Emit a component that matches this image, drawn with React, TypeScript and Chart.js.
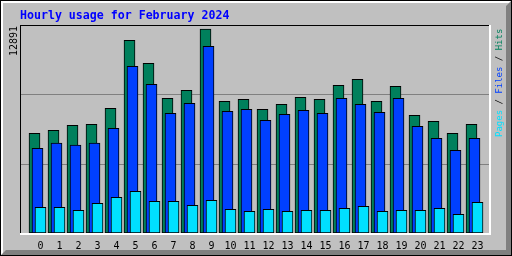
import React, { useEffect, useRef } from "react";
import { Chart, registerables } from "chart.js";

Chart.register(...registerables);

const TITLE = "Hourly usage for February 2024";
const MAX_LABEL = "12891";
const HOURS = [0, 1, 2, 3, 4, 5, 6, 7, 8, 9, 10, 11, 12, 13, 14, 15, 16, 17, 18, 19, 20, 21, 22, 23];
const HITS = [6300, 6490, 6806, 6869, 7880, 12177, 10723, 8512, 9017, 12891, 8322, 8449, 7817, 8133, 8575, 8449, 9333, 9712, 8322, 9270, 7437, 7058, 6300, 6869];
const FILES = [5352, 5687, 5561, 5687, 6616, 10534, 9396, 7564, 8196, 11798, 7690, 7817, 7122, 7501, 7753, 7564, 8512, 8133, 7627, 8512, 6742, 5984, 5226, 5984];
const PAGES = [1624, 1624, 1434, 1877, 2256, 2635, 2003, 2003, 1750, 2066, 1498, 1371, 1498, 1371, 1434, 1434, 1561, 1687, 1371, 1434, 1434, 1561, 1182, 1940];

const C_HITS = "#00805C";
const C_FILES = "#0040FF";
const C_PAGES = "#00E0FF";
const BG = "#C0C0C0";

// layout constants (pixels)
const W = 512;
const H = 256;
const P_LEFT = 21;
const P_RIGHT = 489;
const P_TOP = 26;
const P_BOTTOM = 233;
const STEP = 19; // px per hour group
const OFFSET = 3; // px between overlapping bars
const FIRST_CENTER = 34.5;

const X_MIN = -(FIRST_CENTER - P_LEFT) / STEP;
const X_MAX = X_MIN + (P_RIGHT - P_LEFT) / STEP;
const Y_MAX = (HITS[9] * (P_BOTTOM - P_TOP)) / (P_BOTTOM - 29);

const framePlugin = {
  id: "frame",
  beforeDraw(chart: any) {
    const ctx = chart.ctx;
    ctx.save();
    ctx.fillStyle = BG;
    ctx.fillRect(0, 0, W, H);
    // outer black
    ctx.fillStyle = "#000000";
    ctx.fillRect(0, 0, W, 1);
    ctx.fillRect(0, 0, 1, H);
    ctx.fillRect(W - 1, 0, 1, H);
    ctx.fillRect(0, H - 1, W, 1);
    // white highlight
    ctx.fillStyle = "#FFFFFF";
    ctx.fillRect(1, 1, W - 2, 2);
    ctx.fillRect(1, 1, 2, H - 2);
    // gray shadow
    ctx.fillStyle = "#808080";
    ctx.beginPath();
    ctx.moveTo(W - 1, 1);
    ctx.lineTo(W - 1, H - 1);
    ctx.lineTo(1, H - 1);
    ctx.lineTo(6, H - 6);
    ctx.lineTo(W - 6, H - 6);
    ctx.lineTo(W - 6, 6);
    ctx.closePath();
    ctx.fill();
    ctx.restore();
  },
  beforeDatasetsDraw(chart: any) {
    const ctx = chart.ctx;
    const a = chart.chartArea;
    ctx.save();
    ctx.fillStyle = "#000000";
    ctx.fillRect(a.left - 1, a.top - 1, a.right - a.left + 1, 1);
    ctx.fillRect(a.left - 1, a.top - 1, 1, a.bottom - a.top + 1);
    ctx.fillStyle = "#FFFFFF";
    ctx.fillRect(a.left - 1, a.bottom, a.right - a.left + 3, 2);
    ctx.fillRect(a.right, a.top - 1, 2, a.bottom - a.top + 3);
    ctx.restore();
  },
  afterDraw(chart: any) {
    const ctx = chart.ctx;
    ctx.save();
    ctx.font = "bold 11.6px 'DejaVu Sans Mono'";
    ctx.fillStyle = "#0000FF";
    ctx.textBaseline = "alphabetic";
    ctx.textAlign = "left";
    ctx.fillText(TITLE, 20, 19);
    // right label
    ctx.translate(500, 137);
    ctx.rotate(-Math.PI / 2);
    ctx.font = "9px 'DejaVu Sans Mono'";
    ctx.textBaseline = "middle";
    const parts: [string, string][] = [
      ["Pages", C_PAGES],
      [" / ", "#000000"],
      ["Files", C_FILES],
      [" / ", "#000000"],
      ["Hits", C_HITS],
    ];
    let x = 0;
    for (const [t, c] of parts) {
      ctx.fillStyle = c;
      ctx.fillText(t, x, 0);
      x += ctx.measureText(t).width;
    }
    ctx.restore();
  },
};

export default function App() {
  const ref = useRef<HTMLCanvasElement | null>(null);
  useEffect(() => {
    if (!ref.current) return;
    const mk = (vals: number[], shift: number) =>
      vals.map((v, i) => ({ x: HOURS[i] + shift / STEP, y: v }));
    const common = {
      borderColor: "#000000",
      borderWidth: 1,
      borderSkipped: false,
      barThickness: 11,
      grouped: false,
    };
    const chart = new Chart(ref.current, {
      type: "bar",
      data: {
        datasets: [
          { label: "Hits", data: mk(HITS, 0), backgroundColor: C_HITS, order: 3, ...common },
          { label: "Files", data: mk(FILES, OFFSET), backgroundColor: C_FILES, order: 2, ...common },
          { label: "Pages", data: mk(PAGES, OFFSET * 2), backgroundColor: C_PAGES, order: 1, ...common },
        ] as any,
      },
      options: {
        animation: false,
        responsive: false,
        devicePixelRatio: 1,
        layout: { padding: { top: P_TOP, right: W - P_RIGHT, bottom: 0, left: 0 } },
        plugins: { legend: { display: false }, tooltip: { enabled: false }, title: { display: false } },
        scales: {
          x: {
            type: "linear",
            offset: false,
            min: X_MIN,
            max: X_MAX,
            grid: { display: false, drawTicks: false, offset: false },
            border: { display: false },
            afterBuildTicks: (scale: any) => {
              scale.ticks = HOURS.map((h) => ({ value: h + (2 * OFFSET) / STEP }));
            },
            afterFit: (scale: any) => {
              scale.height = H - P_BOTTOM;
            },
            ticks: {
              autoSkip: false,
              maxRotation: 0,
              minRotation: 0,
              padding: 7,
              color: "#000000",
              font: { family: "'DejaVu Sans Mono'", size: 10 },
              callback: (_v: any, i: number) => String(HOURS[i]),
            },
          },
          y: {
            type: "linear",
            min: 0,
            max: Y_MAX,
            afterBuildTicks: (scale: any) => {
              scale.ticks = [{ value: Y_MAX / 3 }, { value: (2 * Y_MAX) / 3 }];
            },
            afterFit: (scale: any) => {
              scale.width = P_LEFT;
            },
            grid: { color: "#808080", lineWidth: 1, drawTicks: false },
            border: { display: false },
            ticks: { display: false },
            title: {
              display: true,
              text: MAX_LABEL,
              align: "end",
              color: "#000000",
              font: { family: "'DejaVu Sans Mono'", size: 10 },
              padding: { top: 8, bottom: 0 },
            },
          },
        },
      } as any,
      plugins: [framePlugin],
    });
    return () => chart.destroy();
  }, []);
  return (
    <div style={{ position: "fixed", left: 0, top: 0, width: W, height: H }}>
      <canvas ref={ref} width={W} height={H} style={{ display: "block" }} />
    </div>
  );
}
